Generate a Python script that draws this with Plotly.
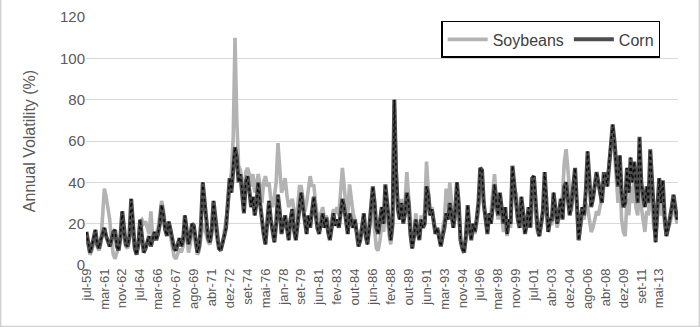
import plotly.graph_objects as go

tick_labels = ["jul-59", "mar-61", "nov-62", "jul-64", "mar-66", "nov-67", "ago-69", "abr-71",
               "dez-72", "set-74", "mai-76", "jan-78", "set-79", "jun-81", "fev-83", "out-84",
               "jun-86", "fev-88", "out-89", "jun-91", "mar-93", "nov-94", "jul-96", "mar-98",
               "nov-99", "jul-01", "abr-03", "dez-04", "ago-06", "abr-08", "dez-09", "set-11",
               "mai-13"]

# one value every second period (category index step 2)
corn = [
    16, 11, 6, 9, 13, 17, 10, 8, 12, 15,
    18, 14, 11, 9, 12, 16, 17, 9, 7, 14,
    26, 15, 10, 9, 14, 32, 22, 8, 5, 10,
    22, 14, 6, 8, 11, 14, 9, 13, 16, 12,
    15, 20, 29, 24, 17, 14, 21, 17, 12, 8,
    7, 10, 13, 9, 12, 24, 18, 10, 14, 20,
    19, 12, 6, 9, 20, 40, 30, 22, 13, 11,
    17, 31, 22, 12, 8, 7, 10, 14, 18, 30,
    42, 35, 50, 57, 52, 40, 44, 36, 25, 40,
    43, 36, 28, 33, 24, 30, 40, 30, 21, 15,
    10, 20, 31, 22, 16, 11, 20, 34, 26, 15,
    20, 24, 18, 12, 22, 27, 17, 12, 20, 30,
    35, 28, 20, 15, 24, 18, 26, 33, 25, 18,
    15, 20, 25, 18, 23, 16, 12, 18, 25, 19,
    22, 18, 25, 32, 28, 20, 15, 25, 22, 18,
    22, 14, 9, 12, 18, 25, 14, 10, 18, 30,
    38, 30, 18, 15, 22, 28, 20, 39, 30, 20,
    12, 20, 80, 45, 27, 22, 30, 20, 25, 35,
    30, 15, 8, 14, 22, 16, 12, 22, 18, 20,
    38, 34, 24, 27, 20, 15, 18, 12, 9, 14,
    18, 25, 22, 30, 24, 18, 26, 40, 30, 12,
    8, 6, 14, 29, 18, 12, 20, 16, 22, 30,
    47, 46, 30, 22, 15, 25, 20, 28, 39, 30,
    24, 35, 27, 20, 28, 15, 22, 20, 48, 38,
    30, 22, 18, 33, 25, 15, 20, 28, 18, 42,
    43, 30, 18, 14, 20, 26, 45, 32, 16, 22,
    22, 35, 28, 20, 25, 32, 22, 38, 40, 30,
    24, 30, 40, 47, 30, 12, 20, 28, 24, 36,
    55, 40, 28, 32, 38, 45, 40, 35, 30, 44,
    44, 38, 50, 60, 68, 60, 45, 38, 53, 35,
    28, 30, 47, 35, 52, 40, 50, 38, 30, 62,
    40, 33, 28, 38, 30, 56, 38, 24, 11, 28,
    42, 30, 41, 24, 14, 18, 22, 28, 34, 26,
    22,
]

soybeans = [
    14, 9, 5, 7, 10, 14, 9, 7, 10, 22,
    37, 33, 28, 22, 12, 5, 3, 6, 10, 12,
    18, 12, 9, 8, 12, 20, 16, 8, 6, 9,
    21, 22, 20, 21, 18, 15, 26, 14, 12, 15,
    18, 24, 31, 27, 19, 16, 18, 14, 8, 4,
    3, 5, 8, 6, 9, 18, 14, 6, 10, 17,
    16, 10, 5, 7, 14, 20, 18, 15, 11, 10,
    15, 25, 18, 12, 9, 8, 10, 16, 20, 28,
    38, 45, 62, 110, 70, 48, 46, 40, 30, 45,
    47, 44, 38, 44, 35, 40, 44, 38, 30, 40,
    43, 38, 40, 32, 28, 33, 40, 59, 45, 35,
    38, 42, 34, 28, 30, 32, 26, 22, 28, 38,
    38, 32, 26, 30, 36, 43, 38, 39, 30, 24,
    22, 25, 28, 22, 24, 20, 18, 22, 27, 25,
    28, 24, 36, 47, 38, 28, 24, 39, 32, 25,
    22, 14, 10, 14, 20, 24, 16, 12, 17, 25,
    26, 18, 8, 7, 12, 20, 16, 28, 24, 15,
    10, 18, 78, 45, 28, 24, 32, 24, 30, 45,
    35, 20, 10, 14, 25, 18, 15, 24, 20, 26,
    50, 36, 26, 28, 22, 16, 18, 14, 12, 18,
    22, 37, 28, 40, 30, 20, 22, 30, 26, 12,
    9, 7, 12, 24, 16, 14, 18, 15, 20, 26,
    40, 38, 28, 20, 16, 22, 25, 35, 44, 32,
    22, 30, 24, 16, 24, 14, 20, 18, 40, 33,
    35, 24, 18, 30, 24, 16, 22, 24, 18, 30,
    32, 24, 16, 14, 18, 24, 36, 28, 16, 20,
    20, 30, 26, 18, 22, 28, 34, 50, 56, 45,
    35, 26, 36, 40, 28, 12, 18, 24, 22, 30,
    28, 20, 16, 18, 22, 26, 24, 28, 32, 38,
    42, 40, 50, 58, 66, 55, 40, 30, 44, 22,
    16, 14, 32, 24, 38, 30, 40, 28, 24, 45,
    28, 20, 16, 26, 24, 40, 30, 18, 14, 22,
    32, 24, 30, 20, 15, 18, 20, 24, 30, 25,
    20,
]

x = list(range(0, 2 * len(corn), 2))
tickvals = list(range(0, 20 * len(tick_labels), 20))

fig = go.Figure()
fig.add_trace(go.Scatter(x=x, y=soybeans, mode="lines", name="Soybeans",
                         line=dict(color="#b3b3b3", width=3.6)))
fig.add_trace(go.Scatter(x=x, y=corn, mode="lines", name="Corn",
                         line=dict(color="#4d4d4d", width=4)))
fig.add_trace(go.Scatter(x=x, y=corn, mode="lines", showlegend=False, hoverinfo="skip",
                         line=dict(color="#0a0a0a", width=1.4, dash="dot")))

font_col = "#595959"
fig.update_layout(
    width=700, height=327,
    margin=dict(l=86, r=22, t=17, b=62, autoexpand=False),
    paper_bgcolor="white", plot_bgcolor="white",
    font=dict(family="Liberation Sans, Arial, sans-serif", color=font_col, size=14),
    showlegend=True,
    legend=dict(orientation="h", x=0.60, y=0.984, xanchor="left", yanchor="top",
                bordercolor="#000000", borderwidth=1.5, bgcolor="white",
                font=dict(size=16, color="#404040"), itemwidth=40,
                tracegroupgap=0),
    xaxis=dict(range=[-0.5, 661], tickmode="array", tickvals=tickvals, ticktext=tick_labels,
               tickangle=-90, showgrid=False, zeroline=False, showline=False,
               tickfont=dict(size=13, color=font_col), ticks="", automargin=False),
    yaxis=dict(range=[0, 120], dtick=20, showgrid=True, gridcolor="#d9d9d9", gridwidth=1,
               zeroline=False, showline=False, ticks="", automargin=False,
               tickfont=dict(size=15, color=font_col),
               title=dict(text="Annual Volatility (%)", font=dict(size=16, color=font_col),
                          standoff=20)),
    shapes=[dict(type="rect", xref="paper", yref="paper",
                 x0=-86 / 592 + 0.001, x1=(700 - 86) / 592 - 0.001,
                 y0=-62 / 248 + 0.002, y1=(327 - 17) / 248 - 0.002,
                 line=dict(color="#d0d0d0", width=1.5), layer="below")],
)

fig.write_html("out.html", config={"displayModeBar": False},
               post_script="document.body.style.margin='0';")
